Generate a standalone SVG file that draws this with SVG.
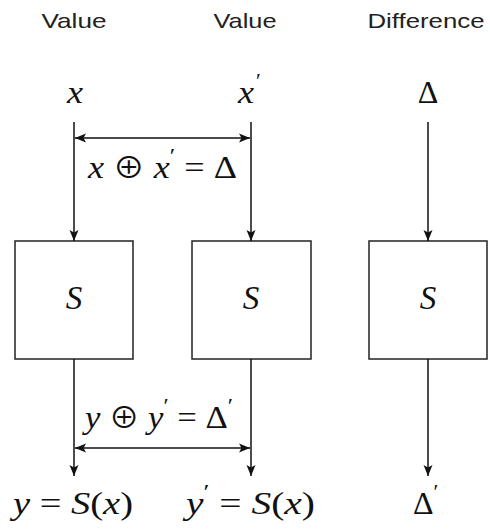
<svg xmlns="http://www.w3.org/2000/svg" width="490" height="529" viewBox="0 0 490 529">
<style>
.hdr{font-family:"Liberation Sans",Arial,sans-serif;font-size:21px;fill:#222;}
.m{font-family:"Liberation Serif","DejaVu Serif",serif;fill:#111;font-size:32px;}
.i{font-style:italic;}
.p{font-size:22px;}
.op{font-family:"Noto Sans CJK JP","DejaVu Sans",sans-serif;font-size:28px;}
.box{fill:#fff;stroke:#222;stroke-width:1.5;}
.c{stroke:#111;stroke-width:1.5;fill:none;}
</style>
<defs>
<marker id="ah" markerUnits="userSpaceOnUse" markerWidth="12" markerHeight="12" viewBox="0 0 12 12" refX="11" refY="6" orient="auto-start-reverse">
<path d="M0,1.5 L11,6 L0,10.5 L2.5,6 z" fill="#111"/>
</marker>
</defs>
<g id="headers">
<text class="hdr" x="74" y="28" text-anchor="middle" textLength="65" lengthAdjust="spacingAndGlyphs">Value</text>
<text class="hdr" x="245" y="28" text-anchor="middle" textLength="63" lengthAdjust="spacingAndGlyphs">Value</text>
<text class="hdr" x="426" y="28" text-anchor="middle" textLength="117" lengthAdjust="spacingAndGlyphs">Difference</text>
</g>
<g id="inputs">
<text class="m i" x="75" y="103" text-anchor="middle" textLength="16" lengthAdjust="spacingAndGlyphs">x</text>
<text class="m" x="238" y="103"><tspan class="i" textLength="16" lengthAdjust="spacingAndGlyphs">x</tspan><tspan class="p" dx="2" dy="-15">′</tspan></text>
<text class="m" x="428" y="103" text-anchor="middle">Δ</text>
</g>
<g id="box1"><rect class="box" x="15" y="241" width="118" height="118"/><text class="m i" x="74" y="309" text-anchor="middle" style="font-size:33px">S</text></g>
<g id="box2"><rect class="box" x="192" y="241" width="119" height="118"/><text class="m i" x="251" y="309" text-anchor="middle" style="font-size:33px">S</text></g>
<g id="box3"><rect class="box" x="369" y="241" width="118" height="118"/><text class="m i" x="428" y="309" text-anchor="middle" style="font-size:33px">S</text></g>
<g id="connectors">
<line class="c" x1="74" y1="122" x2="74" y2="241" marker-end="url(#ah)"/>
<line class="c" x1="251" y1="122" x2="251" y2="241" marker-end="url(#ah)"/>
<line class="c" x1="428" y1="122" x2="428" y2="241" marker-end="url(#ah)"/>
<line class="c" x1="74" y1="359" x2="74" y2="476" marker-end="url(#ah)"/>
<line class="c" x1="251" y1="359" x2="251" y2="476" marker-end="url(#ah)"/>
<line class="c" x1="428" y1="359" x2="428" y2="476" marker-end="url(#ah)"/>
<line class="c" x1="75" y1="138" x2="250" y2="138" marker-start="url(#ah)" marker-end="url(#ah)"/>
<line class="c" x1="75" y1="448" x2="250" y2="448" marker-start="url(#ah)" marker-end="url(#ah)"/>
</g>
<g id="labels">
<text class="m" x="88" y="178" textLength="149" lengthAdjust="spacingAndGlyphs"><tspan class="i">x</tspan> <tspan class="op">⊕</tspan> <tspan class="i">x</tspan><tspan class="p" dy="-15">′</tspan><tspan dy="15"> = Δ</tspan></text>
<text class="m" x="85" y="428" textLength="148" lengthAdjust="spacingAndGlyphs"><tspan class="i">y</tspan> <tspan class="op">⊕</tspan> <tspan class="i">y</tspan><tspan class="p" dy="-15">′</tspan><tspan dy="15"> = Δ</tspan><tspan class="p" dy="-15">′</tspan></text>
</g>
<g id="outputs">
<text class="m" x="13" y="514" textLength="120" lengthAdjust="spacingAndGlyphs"><tspan class="i">y</tspan> = <tspan class="i">S</tspan>(<tspan class="i">x</tspan>)</text>
<text class="m" x="186" y="514" textLength="129" lengthAdjust="spacingAndGlyphs"><tspan class="i">y</tspan><tspan class="p" dy="-15">′</tspan><tspan dy="15"> = </tspan><tspan class="i">S</tspan>(<tspan class="i">x</tspan>)</text>
<text class="m" x="413" y="514">Δ<tspan class="p" dy="-15">′</tspan></text>
</g>
</svg>
